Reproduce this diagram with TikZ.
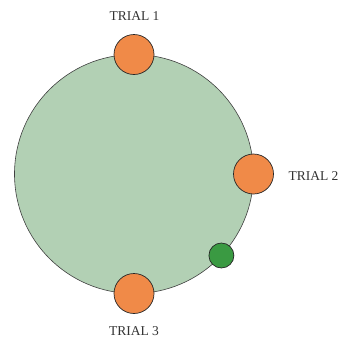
\documentclass[tikz,border=0pt]{standalone}
\usepackage{fontspec}
\setmainfont{Liberation Serif}
\usetikzlibrary{positioning}
\definecolor{sage}{RGB}{178,208,180}
\definecolor{trialorange}{RGB}{240,138,72}
\definecolor{dotgreen}{RGB}{58,154,66}
\tikzset{
  ring/.style={circle, draw=black!75, fill=sage, line width=0.6pt, minimum size=239pt, inner sep=0pt},
  trial/.style={circle, draw=black!85, fill=trialorange, line width=0.7pt, minimum size=40pt, inner sep=0pt},
  marker/.style={circle, draw=black!85, fill=dotgreen, line width=0.7pt, minimum size=25pt, inner sep=0pt},
  tlabel/.style={font=\fontsize{13.5}{15}\selectfont, inner sep=0pt, text=black!80}
}
\begin{document}
\begin{tikzpicture}[x=1pt, y=-1pt]
    \useasboundingbox (0,0) rectangle (342,338);

    % coordinates to be reused
    \coordinate (O) at (134,174);
    \coordinate (P1) at (134,54.5);
    \coordinate (P2) at (253.5,174);
    \coordinate (P3) at (134,293.5);
    \coordinate (G) at (221.4,255.5);

    % draw figure
    \node [ring] (ring) at (O) {};
    \node [trial] (t1) at (P1) {};
    \node [trial] (t2) at (P2) {};
    \node [trial] (t3) at (P3) {};
    \node [marker] (g) at (G) {};

    % add labels
    \node [tlabel, anchor=base] (l1) at (134.5,20.3) {TRIAL 1};
    \node [tlabel, anchor=base west] (l2) at (288.3,180.2) {TRIAL 2};
    \node [tlabel, anchor=base] (l3) at (134,335.3) {TRIAL 3};
\end{tikzpicture}
\end{document}
